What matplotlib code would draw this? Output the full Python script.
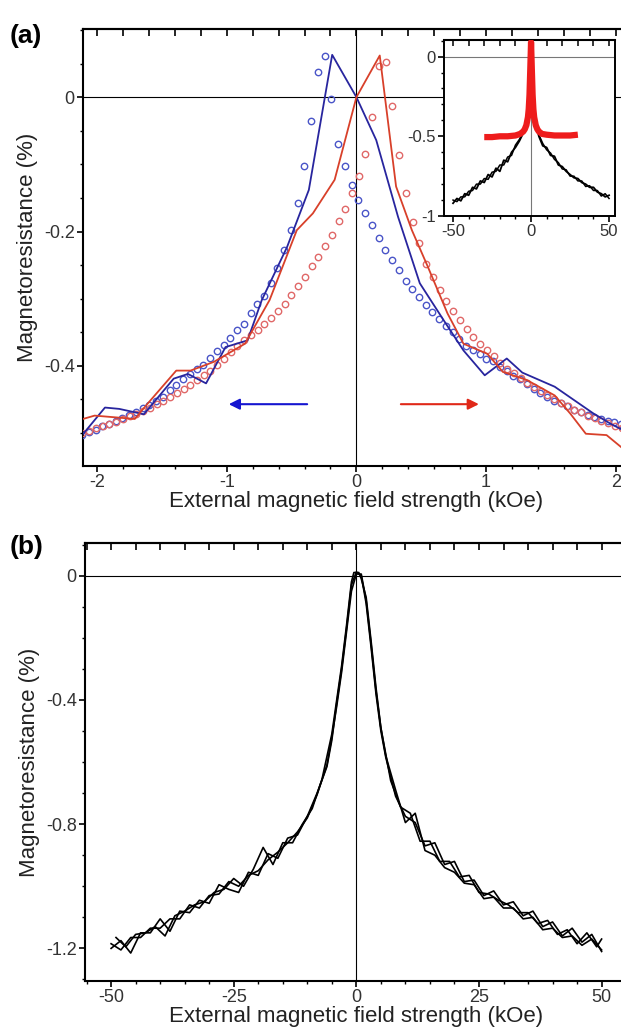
import numpy as np
import matplotlib
matplotlib.use("Agg")
import matplotlib.pyplot as plt
from matplotlib.ticker import MultipleLocator, FixedLocator

plt.rcParams['font.family'] = ['Liberation Sans', 'DejaVu Sans']
plt.rcParams['axes.unicode_minus'] = False

# ---------------- panel (a) data ----------------
blue_line_x = [-2.107, -1.94, -1.83, -1.64, -1.41, -1.30, -1.16, -1.01, -0.84, -0.73, -0.535, -0.367,
               -0.187, 0.0, 0.153, 0.321, 0.489, 0.673, 0.826, 0.99, 1.16, 1.28, 1.53, 1.68, 1.83, 1.96, 2.1]
blue_line_y = [-0.501, -0.462, -0.464, -0.472, -0.419, -0.412, -0.426, -0.372, -0.362, -0.302, -0.223, -0.138,
               0.063, 0.0, -0.064, -0.178, -0.277, -0.332, -0.377, -0.414, -0.389, -0.41, -0.431, -0.451, -0.471, -0.486, -0.50]

red_line_x = [-2.11, -2.02, -1.71, -1.61, -1.39, -1.28, -1.10, -0.86, -0.67, -0.46, -0.336, -0.168, 0.0,
              0.18, 0.306, 0.428, 0.55, 0.703, 0.826, 1.01, 1.13, 1.315, 1.53, 1.65, 1.77, 1.93, 2.1]
red_line_y = [-0.479, -0.474, -0.479, -0.456, -0.407, -0.407, -0.394, -0.367, -0.302, -0.198, -0.173, -0.123, 0.0,
              0.062, -0.133, -0.198, -0.252, -0.322, -0.367, -0.382, -0.409, -0.421, -0.444, -0.471, -0.501, -0.503, -0.53]

blue_circ_x = [-2.117, -2.065, -2.013, -1.961, -1.909, -1.857, -1.805, -1.753, -1.701, -1.649, -1.597, -1.545,
               -1.493, -1.441, -1.389, -1.337, -1.285, -1.233, -1.181, -1.129, -1.077, -1.025, -0.973, -0.921,
               -0.869, -0.817, -0.765, -0.713, -0.661, -0.609, -0.557, -0.505, -0.453, -0.401, -0.349, -0.297,
               -0.245, -0.193, -0.141, -0.089, -0.037, 0.015, 0.067, 0.119, 0.171, 0.223, 0.275, 0.327, 0.379,
               0.431, 0.483, 0.535, 0.587, 0.639, 0.691, 0.743, 0.795, 0.847, 0.899, 0.951, 1.003, 1.055, 1.107,
               1.159, 1.211, 1.263, 1.315, 1.367, 1.419, 1.471, 1.523, 1.575, 1.627, 1.679, 1.731, 1.783, 1.835,
               1.887, 1.939, 1.991, 2.043]
blue_circ_y = [-0.503, -0.498, -0.495, -0.490, -0.486, -0.482, -0.478, -0.473, -0.469, -0.463, -0.458, -0.452,
               -0.446, -0.436, -0.428, -0.419, -0.412, -0.405, -0.398, -0.388, -0.378, -0.369, -0.358, -0.346,
               -0.337, -0.322, -0.308, -0.296, -0.277, -0.255, -0.228, -0.197, -0.158, -0.103, -0.036, 0.037,
               0.061, -0.003, -0.069, -0.103, -0.131, -0.153, -0.172, -0.191, -0.210, -0.227, -0.242, -0.257,
               -0.273, -0.285, -0.298, -0.309, -0.320, -0.330, -0.341, -0.350, -0.360, -0.370, -0.377, -0.383,
               -0.389, -0.393, -0.401, -0.408, -0.415, -0.420, -0.427, -0.435, -0.440, -0.447, -0.452, -0.455,
               -0.460, -0.465, -0.469, -0.473, -0.476, -0.479, -0.482, -0.484, -0.487]

red_circ_x = [-2.114, -2.062, -2.010, -1.958, -1.906, -1.854, -1.802, -1.750, -1.698, -1.646, -1.594, -1.542,
              -1.490, -1.438, -1.386, -1.334, -1.282, -1.230, -1.178, -1.126, -1.074, -1.022, -0.970, -0.918,
              -0.866, -0.814, -0.762, -0.710, -0.658, -0.606, -0.554, -0.502, -0.450, -0.398, -0.346, -0.294,
              -0.242, -0.190, -0.138, -0.086, -0.034, 0.018, 0.070, 0.122, 0.174, 0.226, 0.278, 0.330, 0.382,
              0.434, 0.486, 0.538, 0.590, 0.642, 0.694, 0.746, 0.798, 0.850, 0.902, 0.954, 1.006, 1.058, 1.110,
              1.162, 1.214, 1.266, 1.318, 1.370, 1.422, 1.474, 1.526, 1.578, 1.630, 1.682, 1.734, 1.786, 1.838,
              1.890, 1.942, 1.994, 2.046]
red_circ_y = [-0.500, -0.497, -0.493, -0.490, -0.486, -0.483, -0.479, -0.475, -0.471, -0.467, -0.462, -0.457,
              -0.452, -0.447, -0.441, -0.435, -0.428, -0.421, -0.414, -0.407, -0.398, -0.389, -0.380, -0.370,
              -0.362, -0.354, -0.347, -0.337, -0.329, -0.319, -0.308, -0.295, -0.281, -0.267, -0.252, -0.238,
              -0.222, -0.205, -0.185, -0.167, -0.143, -0.117, -0.085, -0.030, 0.047, 0.053, -0.013, -0.086, -0.142,
              -0.186, -0.217, -0.248, -0.267, -0.287, -0.303, -0.318, -0.332, -0.345, -0.357, -0.367, -0.377,
              -0.386, -0.396, -0.404, -0.411, -0.418, -0.425, -0.432, -0.438, -0.444, -0.450, -0.455, -0.460,
              -0.465, -0.469, -0.474, -0.478, -0.482, -0.485, -0.489, -0.493]

# inset data
inset_red_x = [-30, -25, -20, -15, -10, -7, -5, -4, -3, -2, -1.5, -1, -0.5, 0, 0.5, 1, 1.5, 2, 3, 4, 5, 7, 10, 15, 20, 25, 30]
inset_red_y = [-0.505, -0.505, -0.50, -0.50, -0.495, -0.485, -0.47, -0.455, -0.43, -0.38, -0.33, -0.24, -0.08, 0.09,
               -0.08, -0.24, -0.33, -0.38, -0.43, -0.455, -0.47, -0.485, -0.49, -0.495, -0.495, -0.495, -0.49]
inset_blk_x = [-50, -47.5, -45, -42.5, -40, -37.5, -35, -32.5, -30, -27.5, -25, -22.5, -20, -17.5, -15, -12.5,
               -10, -7.5, -5, -3, -2, -1, 0, 1, 2, 3, 5, 7.5, 10, 12.5, 15, 17.5, 20, 22.5, 25, 27.5, 30, 32.5,
               35, 37.5, 40, 42.5, 45, 47.5, 50]
inset_blk_y1 = [-0.92, -0.89, -0.905, -0.86, -0.87, -0.82, -0.83, -0.78, -0.79, -0.74, -0.755, -0.70, -0.72, -0.65,
                -0.66, -0.60, -0.57, -0.53, -0.48, -0.40, -0.30, -0.12, 0.0, -0.12, -0.30, -0.42, -0.50, -0.56,
                -0.57, -0.62, -0.625, -0.68, -0.69, -0.72, -0.74, -0.76, -0.765, -0.79, -0.80, -0.82, -0.82,
                -0.85, -0.86, -0.88, -0.87]
inset_blk_y2 = [-0.90, -0.91, -0.88, -0.88, -0.845, -0.84, -0.80, -0.80, -0.765, -0.77, -0.725, -0.72, -0.68, -0.68,
                -0.63, -0.62, -0.555, -0.52, -0.47, -0.39, -0.29, -0.11, 0.0, -0.11, -0.29, -0.41, -0.49, -0.545,
                -0.585, -0.605, -0.645, -0.665, -0.705, -0.71, -0.75, -0.75, -0.78, -0.78, -0.815, -0.81, -0.84,
                -0.84, -0.875, -0.86, -0.89]

# ---------------- panel (b) data ----------------
b_xA = [-50, -48, -46, -44, -42, -40, -38, -36, -34, -32, -30, -28, -26, -24, -22, -20, -18, -16, -14, -12, -10,
        -8, -6, -5, -4, -3, -2, -1, 0, 1, 2, 3, 4, 5, 6, 8, 10, 12, 14, 16, 18, 20, 22, 24, 26, 28, 30, 32, 34,
        36, 38, 40, 42, 44, 46, 48, 50]
b_yA = [-1.20, -1.175, -1.215, -1.15, -1.15, -1.105, -1.145, -1.08, -1.085, -1.045, -1.055, -0.995, -1.01, -1.02,
        -0.955, -0.965, -0.895, -0.91, -0.845, -0.835, -0.775, -0.70, -0.615, -0.53, -0.41, -0.30, -0.17, -0.03,
        0.012, 0.0, -0.09, -0.23, -0.38, -0.50, -0.585, -0.71, -0.775, -0.795, -0.87, -0.86, -0.93, -0.92, -0.985,
        -0.98, -1.03, -1.015, -1.06, -1.05, -1.095, -1.08, -1.13, -1.115, -1.16, -1.135, -1.18, -1.155, -1.21]
b_xB = [-49, -47, -45, -43, -41, -39, -37, -35, -33, -31, -29, -27, -25, -23, -21, -19, -17, -15, -13, -11, -9,
        -7, -5, -4, -3, -2, -1, -0.5, 0.5, 1, 2, 3, 4, 5, 7, 9, 11, 13, 15, 17, 19, 21, 23, 25, 27, 29, 31, 33,
        35, 37, 39, 41, 43, 45, 47, 49, 50]
b_yB = [-1.165, -1.195, -1.155, -1.15, -1.13, -1.16, -1.095, -1.08, -1.06, -1.05, -1.02, -1.01, -0.975, -1.0,
        -0.945, -0.875, -0.93, -0.86, -0.86, -0.80, -0.75, -0.655, -0.51, -0.40, -0.29, -0.16, -0.02, 0.01, 0.01,
        -0.01, -0.07, -0.21, -0.36, -0.49, -0.66, -0.745, -0.765, -0.855, -0.855, -0.92, -0.92, -0.97, -0.965,
        -1.02, -1.025, -1.045, -1.06, -1.085, -1.085, -1.12, -1.11, -1.155, -1.14, -1.185, -1.15, -1.195, -1.17]
b_xC = b_xA
b_yC = [-1.185, -1.205, -1.165, -1.165, -1.135, -1.135, -1.105, -1.105, -1.06, -1.07, -1.03, -1.025, -0.985, -1.0,
        -0.965, -0.95, -0.915, -0.89, -0.86, -0.825, -0.78, -0.705, -0.61, -0.52, -0.42, -0.31, -0.18, -0.05,
        0.005, 0.005, -0.08, -0.22, -0.37, -0.49, -0.58, -0.69, -0.795, -0.765, -0.885, -0.90, -0.94, -0.955,
        -0.99, -0.995, -1.04, -1.035, -1.07, -1.07, -1.105, -1.10, -1.14, -1.135, -1.165, -1.16, -1.19,
        -1.17, -1.205]

# ---------------- styling ----------------
W, H = 621, 1031
fig = plt.figure(figsize=(W / 100, H / 100), dpi=100)

TICK_COLOR = '#333333'
SPINE_W = 1.5


def style_axes(ax, fs):
    for s in ax.spines.values():
        s.set_linewidth(SPINE_W)
    ax.tick_params(axis='both', which='major', direction='out', length=4, width=1.2,
                   labelsize=fs, labelcolor=TICK_COLOR, pad=2)
    ax.tick_params(axis='both', which='minor', direction='out', length=2.5, width=1.0)
    ax.tick_params(top=False, right=False)


# panel (a)
ax_a = fig.add_axes([83.2 / W, 1 - 466 / H, (628.6 - 83.2) / W, (466 - 29.3) / H])
ax_a.set_xlim(-2.108, 2.1)
ax_a.set_ylim(-0.549, 0.101)
ax_a.axhline(0, color='black', lw=0.8, zorder=1)
ax_a.axvline(0, color='black', lw=0.8, zorder=1)
ax_a.plot(blue_circ_x, blue_circ_y, 'o', ms=4.6, mfc='none', mec='#4a55c8', mew=1.0, zorder=3)
ax_a.plot(red_circ_x, red_circ_y, 'o', ms=4.6, mfc='none', mec='#e06868', mew=1.0, zorder=3)
ax_a.plot(blue_line_x, blue_line_y, '-', color='#28259e', lw=1.3, zorder=4)
ax_a.plot(red_line_x, red_line_y, '-', color='#d8402a', lw=1.3, zorder=4)
ax_a.annotate('', xy=(-0.985, -0.457), xytext=(-0.38, -0.457),
              arrowprops=dict(arrowstyle='-|>', color='#1515d0', lw=1.5, mutation_scale=16, shrinkA=0, shrinkB=0))
ax_a.annotate('', xy=(0.945, -0.457), xytext=(0.343, -0.457),
              arrowprops=dict(arrowstyle='-|>', color='#e02818', lw=1.5, mutation_scale=16, shrinkA=0, shrinkB=0))
style_axes(ax_a, 13)
ax_a.xaxis.set_major_locator(FixedLocator([-2, -1, 0, 1, 2]))
ax_a.xaxis.set_minor_locator(MultipleLocator(0.2))
ax_a.set_xticklabels(['-2', '-1', '0', '1', '2'])
ax_a.yaxis.set_major_locator(FixedLocator([-0.4, -0.2, 0.0]))
ax_a.set_yticklabels(['-0.4', '-0.2', '0'])
ax_a.yaxis.set_minor_locator(MultipleLocator(0.05))
sa = ax_a.secondary_xaxis('top')
sa.xaxis.set_major_locator(MultipleLocator(0.2))
sa.tick_params(direction='in', length=5, width=1.2, labeltop=False)
sa.spines['top'].set_linewidth(SPINE_W)
ax_a.set_xlabel('External magnetic field strength (kOe)', fontsize=16, color='#222222', labelpad=0)
ax_a.set_ylabel('Magnetoresistance (%)', fontsize=16, color='#222222', labelpad=4)
fig.text(10 / W, 1 - 36 / H, '(a)', fontsize=19, fontweight='bold', va='center', ha='left')

# inset
ax_i = fig.add_axes([444.3 / W, 1 - 216 / H, (615 - 444.3) / W, (216 - 40) / H])
ax_i.set_facecolor('white')
ax_i.set_xlim(-55.6, 53.8)
ax_i.set_ylim(-1.0, 0.104)
ax_i.axhline(0, color='#777777', lw=0.8, zorder=1)
ax_i.axvline(0, color='#777777', lw=0.8, zorder=1)
ax_i.plot(inset_blk_x, inset_blk_y1, '-', color='black', lw=1.3, zorder=2)
ax_i.plot(inset_blk_x, inset_blk_y2, '-', color='black', lw=1.1, zorder=2)
ax_i.plot(inset_red_x, inset_red_y, '-', color='#ee1c1c', lw=4.5, zorder=3, solid_capstyle='butt')
style_axes(ax_i, 12)
ax_i.xaxis.set_major_locator(FixedLocator([-50, 0, 50]))
ax_i.xaxis.set_minor_locator(MultipleLocator(10))
ax_i.yaxis.set_major_locator(FixedLocator([-1.0, -0.5, 0.0]))
ax_i.set_yticklabels(['-1', '-0.5', '0'])
ax_i.yaxis.set_minor_locator(MultipleLocator(0.1))
si = ax_i.secondary_xaxis('top')
si.xaxis.set_major_locator(MultipleLocator(10))
si.tick_params(direction='in', length=4, width=1.1, labeltop=False)
si.spines['top'].set_linewidth(SPINE_W)
for sp in ax_i.spines.values():
    sp.set_linewidth(1.4)

# panel (b)
ax_b = fig.add_axes([85.1 / W, 1 - 981 / H, (627.6 - 85.1) / W, (981 - 543) / H])
ax_b.set_xlim(-55.3, 55.3)
ax_b.set_ylim(-1.305, 0.105)
ax_b.axhline(0, color='black', lw=0.8, zorder=1)
ax_b.axvline(0, color='black', lw=0.8, zorder=1)
ax_b.plot(b_xA, b_yA, '-', color='black', lw=1.2)
ax_b.plot(b_xB, b_yB, '-', color='black', lw=1.2)
ax_b.plot(b_xC, b_yC, '-', color='black', lw=1.2)
style_axes(ax_b, 13)
ax_b.xaxis.set_major_locator(FixedLocator([-50, -25, 0, 25, 50]))
ax_b.xaxis.set_minor_locator(MultipleLocator(5))
ax_b.yaxis.set_major_locator(FixedLocator([-1.2, -0.8, -0.4, 0.0]))
ax_b.set_yticklabels(['-1.2', '-0.8', '-0.4', '0'])
ax_b.yaxis.set_minor_locator(MultipleLocator(0.1))
sb = ax_b.secondary_xaxis('top')
sb.xaxis.set_major_locator(MultipleLocator(5))
sb.tick_params(direction='in', length=5, width=1.2, labeltop=False)
sb.spines['top'].set_linewidth(SPINE_W)
ax_b.set_xlabel('External magnetic field strength (kOe)', fontsize=16, color='#222222', labelpad=0)
ax_b.set_ylabel('Magnetoresistance (%)', fontsize=16, color='#222222', labelpad=4)
fig.text(10 / W, 1 - 547 / H, '(b)', fontsize=19, fontweight='bold', va='center', ha='left')

fig.savefig('out.png', dpi=100)
